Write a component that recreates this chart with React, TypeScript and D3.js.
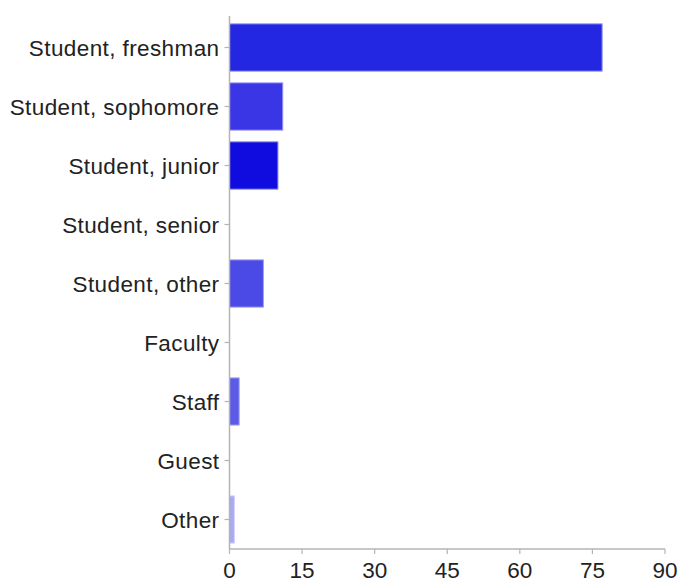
import { useEffect, useRef } from "react";
import * as d3 from "d3";

const categories = [
  "Student, freshman",
  "Student, sophomore",
  "Student, junior",
  "Student, senior",
  "Student, other",
  "Faculty",
  "Staff",
  "Guest",
  "Other",
];
const counts = [77, 11, 10, 0, 7, 0, 2, 0, 1];
const barColors = ["#2427e1", "#3a35e5", "#100ce0", "#3a35e5", "#4b4ae6", "#4b4ae6", "#5b5be8", "#5b5be8", "#a9a9f5"];
const xTicks = [0, 15, 30, 45, 60, 75, 90];

const W = 681;
const H = 583;

export default function App() {
  const svgRef = useRef<SVGSVGElement | null>(null);

  useEffect(() => {
    if (!svgRef.current) return;
    document.body.style.margin = "0";
    const svg = d3.select(svgRef.current);
    svg.selectAll("*").remove();

    const left = 229.5;
    const right = 665;
    const top = 18;
    const bottom = 549;
    const font = "'Liberation Sans', Arial, Helvetica, sans-serif";

    const x = d3.scaleLinear().domain([0, 90]).range([left, right]);
    const y = d3.scaleBand<string>().domain(categories).range([top, bottom]).paddingInner(0.2).paddingOuter(0.1);

    // bars
    svg
      .append("g")
      .selectAll("rect")
      .data(categories)
      .enter()
      .filter((_d, i) => counts[i] > 0)
      .append("rect")
      .attr("x", x(0))
      .attr("y", d => y(d)!)
      .attr("width", d => x(counts[categories.indexOf(d)]) - x(0))
      .attr("height", y.bandwidth())
      .attr("fill", d => barColors[categories.indexOf(d)])
      .attr("stroke", d => d3.interpolateRgb(barColors[categories.indexOf(d)], "#ffffff")(0.45))
      .attr("stroke-width", 1);

    // y axis
    const axisColor = "#b4b4b4";
    const gy = svg.append("g");
    gy.append("line")
      .attr("x1", left).attr("x2", left)
      .attr("y1", top - 2).attr("y2", bottom)
      .attr("stroke", axisColor).attr("stroke-width", 1.5);
    gy.selectAll("line.tick")
      .data(categories)
      .enter()
      .append("line")
      .attr("class", "tick")
      .attr("x1", left - 5).attr("x2", left)
      .attr("y1", d => y(d)! + y.bandwidth() / 2)
      .attr("y2", d => y(d)! + y.bandwidth() / 2)
      .attr("stroke", axisColor).attr("stroke-width", 1.2);
    gy.selectAll("text")
      .data(categories)
      .enter()
      .append("text")
      .attr("x", left - 10)
      .attr("y", d => y(d)! + y.bandwidth() / 2)
      .attr("dy", "0.36em")
      .attr("text-anchor", "end")
      .attr("font-family", font)
      .attr("font-size", 22.5)
      .attr("letter-spacing", 0.4)
      .attr("fill", "#222")
      .text(d => d);

    // x axis
    const gx = svg.append("g");
    gx.append("line")
      .attr("x1", left).attr("x2", right)
      .attr("y1", bottom).attr("y2", bottom)
      .attr("stroke", axisColor).attr("stroke-width", 1.5);
    gx.selectAll("line.tick")
      .data(xTicks)
      .enter()
      .append("line")
      .attr("class", "tick")
      .attr("x1", d => x(d)).attr("x2", d => x(d))
      .attr("y1", bottom).attr("y2", bottom + 5)
      .attr("stroke", axisColor).attr("stroke-width", 1.2);
    gx.selectAll("text")
      .data(xTicks)
      .enter()
      .append("text")
      .attr("x", d => x(d))
      .attr("y", 578)
      .attr("text-anchor", "middle")
      .attr("font-family", font)
      .attr("font-size", 22.5)
      .attr("fill", "#222")
      .text(d => String(d));
  }, []);

  return <svg ref={svgRef} width={W} height={H} style={{ display: "block", background: "#fff" }} />;
}
